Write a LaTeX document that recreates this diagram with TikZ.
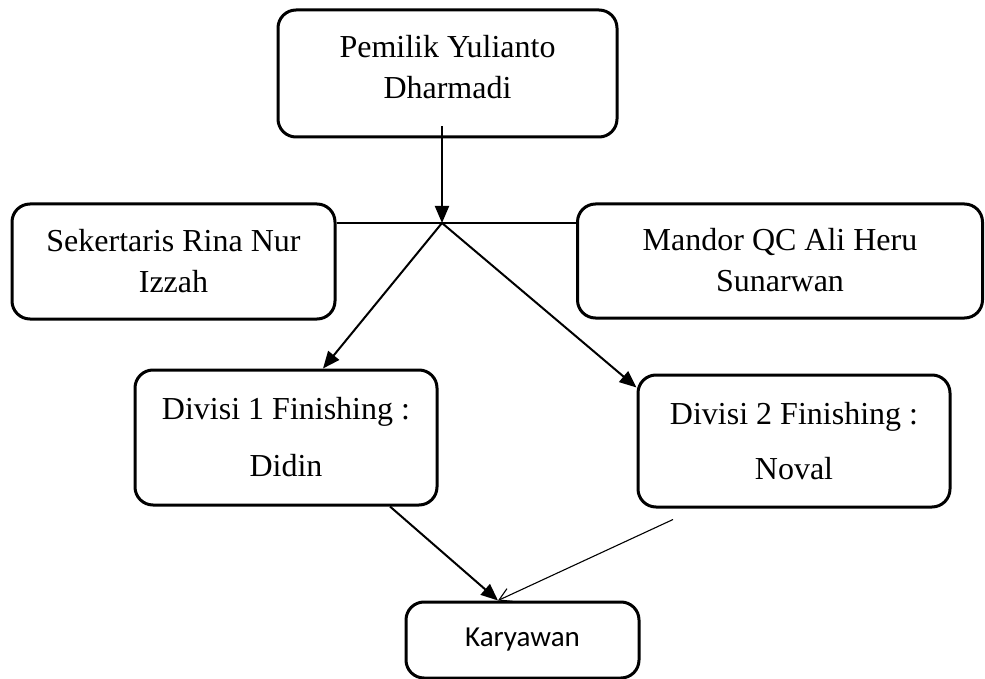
\documentclass[tikz,border=0pt]{standalone}
\usepackage{fontspec}
\setmainfont{Liberation Serif}
\newfontfamily\calibrifont{Carlito}
\usetikzlibrary{arrows.meta}
\begin{document}
\begin{tikzpicture}[x=1pt,y=-1pt,
  orgbox/.style={draw=black,line width=3pt,rounded corners=18pt,align=center,
    inner sep=0pt,font=\fontsize{32}{41}\selectfont},
  conn/.style={line width=2pt},
  arr/.style={conn,-{Triangle[length=17pt,width=14pt]}},
  thinarr/.style={line width=1.1pt,-{Straight Barb[length=12pt,width=14pt,line width=1.1pt]}}]
\useasboundingbox (0,0) rectangle (985,679);
\node[orgbox,minimum width=339pt,minimum height=127pt] (top) at (447.5,73.5) {Pemilik Yulianto\\Dharmadi\rule[-13pt]{0pt}{13pt}};
\node[orgbox,minimum width=323pt,minimum height=115pt] (sek) at (173.5,261.5) {Sekertaris Rina Nur\\Izzah};
\node[orgbox,minimum width=405pt,minimum height=114pt] (man) at (780,261) {Mandor QC Ali Heru\\Sunarwan\rule[-3pt]{0pt}{3pt}};
\node[orgbox,minimum width=302pt,minimum height=135pt,font=\fontsize{32}{57}\selectfont] (div1) at (286,437.5) {Divisi 1 Finishing :\\Didin};
\node[orgbox,minimum width=312pt,minimum height=132pt,font=\fontsize{32}{55}\selectfont] (div2) at (794,441) {Divisi 2 Finishing :\\Noval};
\node[orgbox,minimum width=233pt,minimum height=76pt,font=\calibrifont\fontsize{29}{34}\selectfont] (kary) at (522.5,640) {Karyawan};
\coordinate (J) at (442,223);
\coordinate (d2start) at ([xshift=-121pt,yshift=-11pt]div2.south);
\draw[arr] ([yshift=12pt]top.south -| J) -- (J);
\draw[conn] (sek.east |- J) -- (man.west |- J);
\draw[arr] (J) -- ([xshift=37pt]div1.north);
\draw[arr] (J) -- ([yshift=-14pt]div2.north west);
\draw[arr] ([xshift=104pt]div1.south) -- ([xshift=-24.5pt]kary.north);
\draw[thinarr] (d2start) -- ([xshift=-24.5pt]kary.north);
\end{tikzpicture}
\end{document}
